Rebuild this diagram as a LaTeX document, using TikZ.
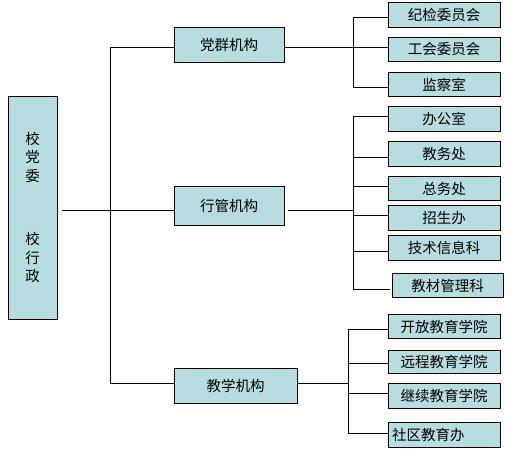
\documentclass[tikz,border=0pt]{standalone}
\usepackage{fontspec}
\newfontfamily\cjk{Noto Sans CJK SC}
\definecolor{boxfill}{RGB}{183,221,224}
\begin{document}
\begin{tikzpicture}[x=1pt,y=-1pt,
  box/.style={draw=black, line width=0.9pt, fill=boxfill, inner sep=0pt,
    font=\cjk\fontsize{14.5}{18.5}\selectfont, text=black},
  sub/.style={box, minimum width=112pt, minimum height=24.5pt},
  mid/.style={box, minimum height=35pt},
  wire/.style={draw=black, line width=0.9pt}]
\useasboundingbox[fill=white] (0,0) rectangle (516,461);

% root
\node[box, minimum width=49pt, minimum height=223pt, align=center] (root) at (32.5,207.5)
  {校\\党\\委\\[45pt]校\\行\\政};

% middle level
\node[mid, minimum width=110pt] (dq) at (229,44.5) {党群机构};
\node[mid, minimum width=110pt, minimum height=39pt] (xg) at (229,205.5) {行管机构};
\node[mid, minimum width=123pt] (jx) at (235.5,385.5) {教学机构};

% party group children
\node[sub] (a1) at (444,15) {纪检委员会};
\node[sub] (a2) at (444,49.5) {工会委员会};
\node[sub] (a3) at (444,84.5) {监察室};

% administration children
\node[sub] (b1) at (444,119) {办公室};
\node[sub] (b2) at (444,154) {教务处};
\node[sub] (b3) at (444,188.5) {总务处};
\node[sub] (b4) at (444,218) {招生办};
\node[sub] (b5) at (444,248) {技术信息科};
\node[sub, minimum width=111pt] (b6) at (447.5,285.5) {教材管理科};

% teaching children
\node[sub] (c1) at (444,326.5) {开放教育学院};
\node[sub, minimum height=23pt] (c2) at (444,361.5) {远程教育学院};
\node[sub] (c3) at (444,396) {继续教育学院};
\node[sub, text width=104pt, align=left] (c4) at (444,435) {社区教育办};

% trunk from root
\coordinate (r0) at (62,210);
\coordinate (t1) at (110,47);
\coordinate (t3) at (110,383);
\draw[wire] (r0) -- (r0 -| xg.west);
\draw[wire] (t1) -- (t3);
\draw[wire] (t1) -- (t1 -| dq.west);
\draw[wire] (t3) -- (t3 -| jx.west);

% party group bus
\coordinate (pa) at (353,47);
\coordinate (pa1) at (353,17);
\coordinate (pa2) at (353,47);
\coordinate (pa3) at (353,87);
\draw[wire] (dq.east |- pa) -- (pa);
\draw[wire] (pa1) -- (pa3);
\draw[wire] (pa1) -- (pa1 -| a1.west);
\draw[wire] (pa2) -- (pa2 -| a2.west);
\draw[wire] (pa3) -- (pa3 -| a3.west);

% administration bus
\coordinate (xa) at (353,210);
\coordinate (xb1) at (353,116);
\coordinate (xb2) at (353,157);
\coordinate (xb3) at (353,186);
\coordinate (xb4) at (353,215);
\coordinate (xb5) at (353,251);
\coordinate (xb6) at (353,289);
\draw[wire] ([xshift=4pt]xg.east |- xa) -- (xa);
\draw[wire] (xb1) -- (xb6);
\draw[wire] (xb1) -- (xb1 -| b1.west);
\draw[wire] (xb2) -- (xb2 -| b2.west);
\draw[wire] (xb3) -- (xb3 -| b3.west);
\draw[wire] (xb4) -- (xb4 -| b4.west);
\draw[wire] (xb5) -- (xb5 -| b5.west);
\draw[wire] (xb6) -- ([xshift=-2pt]xb6 -| b6.west);

% teaching bus
\coordinate (ja) at (348,383);
\coordinate (jc1) at (348,329);
\coordinate (jc2) at (348,363);
\coordinate (jc3) at (348,393);
\coordinate (jc4) at (348,433);
\draw[wire] (jx.east |- ja) -- (ja);
\draw[wire] (jc1) -- (jc4);
\draw[wire] (jc1) -- (jc1 -| c1.west);
\draw[wire] (jc2) -- (jc2 -| c2.west);
\draw[wire] (jc3) -- (jc3 -| c3.west);
\draw[wire] (jc4) -- (jc4 -| c4.west);
\end{tikzpicture}
\end{document}
